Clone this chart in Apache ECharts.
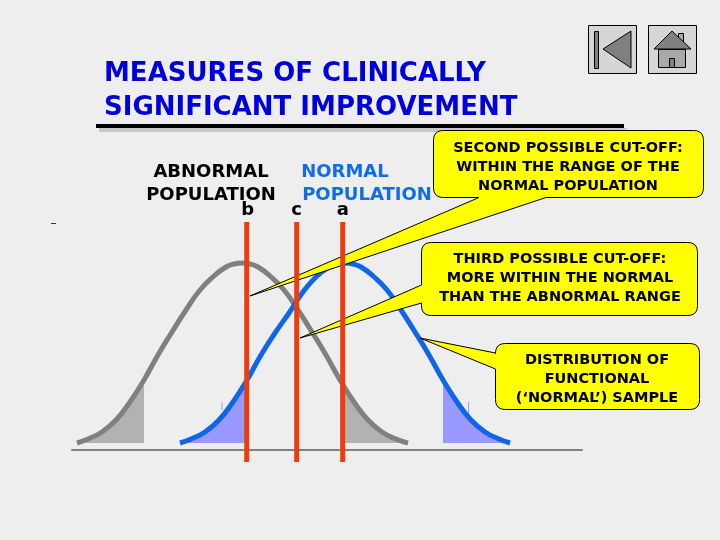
<!DOCTYPE html>
<html>
<head>
<meta charset="utf-8">
<style>
  html, body { margin: 0; padding: 0; background: #eeeeee; }
  #main { width: 720px; height: 540px; }
</style>
<script src="https://cdn.jsdelivr.net/npm/echarts@6/dist/echarts.min.js"></script>
</head>
<body>
<div id="main"></div>
<script>
// values
var abnormalScore = [5, 16, 30, 44, 58, 72, 86, 100, 114, 128, 142, 154, 162, 170, 178, 186, 198, 212, 226, 240, 254, 268, 282, 296, 310, 324, 336];
var abnormalCount = [7, 11, 18, 30, 48, 70, 95, 118, 140, 160, 174, 183, 186, 187, 186, 183, 174, 160, 140, 118, 95, 70, 48, 30, 18, 11, 7];
var normalScore = [108, 119, 133, 147, 161, 175, 189, 203, 217, 231, 245, 257, 265, 273, 281, 289, 301, 315, 329, 343, 357, 371, 385, 399, 413, 427, 438];
var normalCount = [7, 11, 18, 30, 48, 70, 95, 117, 137, 158, 174, 183, 186, 187, 186, 183, 174, 160, 140, 118, 95, 70, 48, 30, 18, 11, 7];
var cutOffs = [174.7, 224.7, 270.7];
var cutOffLabels = ['b', 'c', 'a'];
var cutOffRange = [-12, 228];
var tailFloor = 7;
var blueSpecks = [[150, 40], [150, 48], [null, null], [396.5, 36], [396.5, 48]];

var titleLines = ['MEASURES OF CLINICALLY', 'SIGNIFICANT IMPROVEMENT'];
var abnormalLabel = ['ABNORMAL', 'POPULATION'];
var normalLabel = ['NORMAL', 'POPULATION'];
var secondNote = 'SECOND POSSIBLE CUT-OFF:\nWITHIN THE RANGE OF THE\nNORMAL POPULATION';
var thirdNote = 'THIRD POSSIBLE CUT-OFF:\nMORE WITHIN THE NORMAL\nTHAN THE ABNORMAL RANGE';
var sampleNote = 'DISTRIBUTION OF\nFUNCTIONAL\n(\u2018NORMAL\u2019) SAMPLE';

var FONT = '"DejaVu Sans", sans-serif';

function pairs(xs, ys, from, to) {
  return xs.slice(from, to).map(function (x, i) {
    return [x, ys[from + i]];
  });
}

function tail(name, data, color) {
  return {
    name: name,
    type: 'line',
    z: 2,
    smooth: true,
    symbol: 'none',
    silent: true,
    lineStyle: { width: 0 },
    areaStyle: { color: color, opacity: 1, origin: tailFloor },
    data: data
  };
}

function curve(name, data, color) {
  return {
    name: name,
    type: 'line',
    z: 3,
    smooth: true,
    symbol: 'none',
    silent: true,
    lineStyle: { color: color, width: 5, cap: 'butt' },
    data: data
  };
}

var cutOffSeries = cutOffs.map(function (x, i) {
  return {
    name: 'cut-off ' + cutOffLabels[i],
    type: 'line',
    z: 10,
    symbol: 'none',
    silent: true,
    lineStyle: { color: '#ee3c0c', width: 5, cap: 'butt' },
    data: [[x, cutOffRange[0]], [x, cutOffRange[1]]]
  };
});

// one rounded corner from p0 through control c to p1
function corner(pts, p0, c, p1) {
  for (var i = 0; i <= 6; i++) {
    var t = i / 6;
    pts.push([
      (1 - t) * (1 - t) * p0[0] + 2 * t * (1 - t) * c[0] + t * t * p1[0],
      (1 - t) * (1 - t) * p0[1] + 2 * t * (1 - t) * c[1] + t * t * p1[1]
    ]);
  }
}

// rounded box with a pointer, going clockwise from the top left corner
function callout(x, y, w, h, r, pointer) {
  var pts = [];
  corner(pts, [x + w - r, y], [x + w, y], [x + w, y + r]);
  corner(pts, [x + w, y + h - r], [x + w, y + h], [x + w - r, y + h]);
  if (pointer.side === 'bottom') {
    pts.push(pointer.a, pointer.tip, pointer.b);
  }
  corner(pts, [x + r, y + h], [x, y + h], [x, y + h - r]);
  if (pointer.side === 'left') {
    pts.push(pointer.a, pointer.tip, pointer.b);
  }
  corner(pts, [x, y + r], [x, y], [x + r, y]);
  return {
    type: 'polygon',
    z: 5,
    silent: true,
    shape: { points: pts },
    style: { fill: '#ffff00', stroke: '#000', lineWidth: 1 }
  };
}

function label(text, x, y, size, color, align) {
  return {
    type: 'text',
    z: 20,
    silent: true,
    x: x,
    y: y,
    style: {
      text: text,
      fill: color,
      font: 'bold ' + size + 'px ' + FONT,
      textAlign: align || 'center',
      textVerticalAlign: 'middle'
    }
  };
}

function note(text, cx, top) {
  return {
    type: 'text',
    z: 20,
    silent: true,
    x: cx,
    y: top,
    style: {
      text: text,
      fill: '#000',
      font: 'bold 14.5px ' + FONT,
      lineHeight: 19,
      textAlign: 'center',
      textVerticalAlign: 'top'
    }
  };
}

function box(x, y, w, h, fill, stroke) {
  return {
    type: 'rect',
    silent: true,
    shape: { x: x, y: y, width: w, height: h },
    style: { fill: fill, stroke: stroke || null, lineWidth: stroke ? 1 : 0 }
  };
}

function poly(points, fill) {
  return {
    type: 'polygon',
    silent: true,
    shape: { points: points },
    style: { fill: fill, stroke: '#000', lineWidth: 1 }
  };
}

var graphics = [
  label(titleLines[0], 104, 74, 26, '#0000dc', 'left'),
  label(titleLines[1], 104, 108, 26, '#0000dc', 'left'),
  box(99, 128, 528, 4, '#c8c8c8'),
  box(96, 124, 528, 4, '#000'),
  label(abnormalLabel[0], 211, 172, 18, '#000'),
  label(abnormalLabel[1], 211, 195, 18, '#000'),
  label(normalLabel[0], 345, 172, 18, '#0f6cea'),
  label(normalLabel[1], 367, 195, 18, '#0f6cea'),
  box(51, 223, 5, 1, '#333'),

  // navigation buttons
  box(588.5, 25.5, 48, 48, '#d6d6d6', '#000'),
  box(594.5, 31.5, 4, 37, '#808080', '#000'),
  poly([[603, 49], [631, 31], [631, 68]], '#808080'),
  box(648.5, 25.5, 48, 48, '#d6d6d6', '#000'),
  box(678.5, 33.5, 5, 10, '#a8a8a8', '#000'),
  box(658.5, 49.5, 27, 18, '#a8a8a8', '#000'),
  box(669.5, 58.5, 5, 9, '#808080', '#000'),
  poly([[654, 49], [672, 31], [691, 49]], '#808080'),

  callout(433.5, 130.5, 270, 67, 10, { side: 'bottom', a: [546, 197.5], tip: [250, 296], b: [479, 197.5] }),
  callout(421.5, 242.5, 276, 73, 10, { side: 'left', a: [421.5, 303], tip: [300, 338], b: [421.5, 285] }),
  callout(495.5, 343.5, 204, 66, 10, { side: 'left', a: [495.5, 369], tip: [420, 338], b: [495.5, 353] }),
  note(secondNote, 568, 139),
  note(thirdNote, 560, 250),
  note(sampleNote, 597, 351)
];

cutOffLabels.forEach(function (name, i) {
  graphics.push(label(name, 72 + cutOffs[i] + (name === 'b' ? 1 : 0), 210, 18, '#000'));
});

var chart = echarts.init(document.getElementById('main'));
chart.setOption({
  animation: false,
  backgroundColor: '#eeeeee',
  grid: { left: 72, right: 138, top: 222, bottom: 78 },
  xAxis: {
    type: 'value',
    min: 0,
    max: 510,
    axisLine: { onZero: true, lineStyle: { color: '#808080', width: 2 } },
    axisTick: { show: false },
    axisLabel: { show: false },
    splitLine: { show: false }
  },
  yAxis: {
    type: 'value',
    min: cutOffRange[0],
    max: cutOffRange[1],
    show: false,
    splitLine: { show: false }
  },
  series: [
    tail('abnormal left tail', pairs(abnormalScore, abnormalCount, 0, 6), '#b2b2b2'),
    tail('abnormal right tail', pairs(abnormalScore, abnormalCount, 21, 27), '#b2b2b2'),
    tail('normal left tail', pairs(normalScore, normalCount, 0, 6), '#9999ff'),
    tail('normal right tail', pairs(normalScore, normalCount, 21, 27), '#9999ff'),
    {
      name: 'specks',
      type: 'line',
      z: 2,
      symbol: 'none',
      silent: true,
      lineStyle: { color: '#9999ff', width: 1 },
      data: blueSpecks
    },
    curve('abnormal population', pairs(abnormalScore, abnormalCount, 0, 27), '#808080'),
    curve('normal population', pairs(normalScore, normalCount, 0, 27), '#0f66e8')
  ].concat(cutOffSeries),
  graphic: { elements: graphics }
});
</script>
</body>
</html>
